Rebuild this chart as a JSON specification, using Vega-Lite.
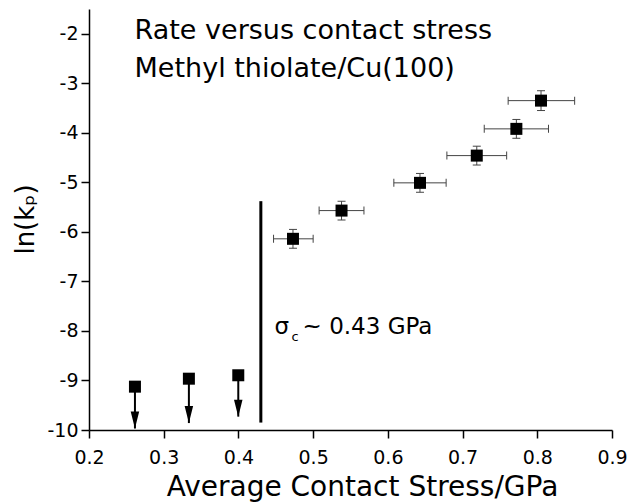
{
  "$schema": "https://vega.github.io/schema/vega-lite/v6.json",
  "width": 523,
  "height": 421,
  "autosize": "none",
  "padding": {"left": 89, "top": 9, "right": 24, "bottom": 72},
  "background": "white",
  "config": {
    "font": "DejaVu Sans",
    "view": {"stroke": null},
    "axis": {
      "grid": false,
      "domainColor": "black",
      "tickColor": "black",
      "labelColor": "black",
      "titleColor": "black",
      "labelFont": "DejaVu Sans",
      "titleFont": "DejaVu Sans",
      "titleFontWeight": "normal",
      "domainWidth": 1.5,
      "tickWidth": 1.5
    }
  },
  "datasets": {
    "main": [
      {"x": 0.473, "y": -6.14, "xlo": 0.447, "xhi": 0.500, "ylo": -6.33, "yhi": -5.95},
      {"x": 0.538, "y": -5.57, "xlo": 0.508, "xhi": 0.568, "ylo": -5.76, "yhi": -5.38},
      {"x": 0.643, "y": -5.01, "xlo": 0.608, "xhi": 0.678, "ylo": -5.20, "yhi": -4.82},
      {"x": 0.719, "y": -4.46, "xlo": 0.679, "xhi": 0.759, "ylo": -4.65, "yhi": -4.27},
      {"x": 0.772, "y": -3.92, "xlo": 0.729, "xhi": 0.815, "ylo": -4.11, "yhi": -3.73},
      {"x": 0.805, "y": -3.35, "xlo": 0.761, "xhi": 0.850, "ylo": -3.55, "yhi": -3.15}
    ],
    "limits": [
      {"x": 0.2615, "y": -9.125, "tip": -9.97},
      {"x": 0.3337, "y": -8.964, "tip": -9.86},
      {"x": 0.3998, "y": -8.895, "tip": -9.73}
    ],
    "threshold": [{"x": 0.43, "ybot": -9.85, "ytop": -5.38}],
    "heading": [
      {"x": 0.261, "y": -2.10, "label": "Rate versus contact stress"},
      {"x": 0.261, "y": -2.87, "label": "Methyl thiolate/Cu(100)"}
    ],
    "sigma": [{"x": 0.4484, "y": -8.06}]
  },
  "layer": [
    {
      "data": {"name": "threshold"},
      "mark": {"type": "rule", "color": "black", "strokeWidth": 3},
      "encoding": {
        "x": {
          "field": "x", "type": "quantitative",
          "scale": {"domain": [0.2, 0.9], "nice": false, "zero": false},
          "title": "Average Contact Stress/GPa",
          "axis": {
            "values": [0.2, 0.25, 0.3, 0.35, 0.4, 0.45, 0.5, 0.55, 0.6, 0.65, 0.7, 0.75, 0.8, 0.85, 0.9],
            "labelExpr": "round(datum.value*100) % 10 == 0 ? format(datum.value, '.1f') : ''",
            "tickSize": {"condition": {"test": "round(datum.value*100) % 10 == 0", "value": 8}, "value": 4},
            "labelFontSize": 19,
            "labelPadding": 10,
            "labelFlush": false,
            "labelOverlap": false,
            "titleFontSize": 28,
            "titlePadding": 6,
            "titleX": 273
          }
        },
        "y": {
          "field": "ybot", "type": "quantitative",
          "scale": {"domain": [-10, -1.5], "nice": false, "zero": false},
          "title": "ln(kₚ)",
          "axis": {
            "values": [-10, -9.5, -9, -8.5, -8, -7.5, -7, -6.5, -6, -5.5, -5, -4.5, -4, -3.5, -3, -2.5, -2, -1.5],
            "labelExpr": "datum.value % 1 == 0 ? '' + datum.value : ''",
            "tickSize": {"condition": {"test": "datum.value % 1 == 0", "value": 8}, "value": 4},
            "labelFontSize": 19,
            "labelPadding": 3,
            "labelFlush": false,
            "labelOverlap": false,
            "titleFontSize": 26,
            "titleX": -51,
            "titleY": 210
          }
        },
        "y2": {"field": "ytop"}
      }
    },
    {
      "data": {"name": "main"},
      "mark": {"type": "rule", "color": "#444444", "strokeWidth": 1},
      "encoding": {
        "x": {"field": "xlo", "type": "quantitative"},
        "x2": {"field": "xhi"},
        "y": {"field": "y", "type": "quantitative"}
      }
    },
    {
      "data": {"name": "main"},
      "mark": {"type": "tick", "orient": "vertical", "size": 8, "thickness": 1, "color": "#444444", "opacity": 1},
      "encoding": {
        "x": {"field": "xlo", "type": "quantitative"},
        "y": {"field": "y", "type": "quantitative"}
      }
    },
    {
      "data": {"name": "main"},
      "mark": {"type": "tick", "orient": "vertical", "size": 8, "thickness": 1, "color": "#444444", "opacity": 1},
      "encoding": {
        "x": {"field": "xhi", "type": "quantitative"},
        "y": {"field": "y", "type": "quantitative"}
      }
    },
    {
      "data": {"name": "main"},
      "mark": {"type": "rule", "color": "#444444", "strokeWidth": 1},
      "encoding": {
        "x": {"field": "x", "type": "quantitative"},
        "y": {"field": "ylo", "type": "quantitative"},
        "y2": {"field": "yhi"}
      }
    },
    {
      "data": {"name": "main"},
      "mark": {"type": "tick", "orient": "horizontal", "size": 8, "thickness": 1, "color": "#444444", "opacity": 1},
      "encoding": {
        "x": {"field": "x", "type": "quantitative"},
        "y": {"field": "ylo", "type": "quantitative"}
      }
    },
    {
      "data": {"name": "main"},
      "mark": {"type": "tick", "orient": "horizontal", "size": 8, "thickness": 1, "color": "#444444", "opacity": 1},
      "encoding": {
        "x": {"field": "x", "type": "quantitative"},
        "y": {"field": "yhi", "type": "quantitative"}
      }
    },
    {
      "data": {"name": "main"},
      "mark": {"type": "point", "shape": "square", "filled": true, "size": 144, "color": "black", "opacity": 1},
      "encoding": {
        "x": {"field": "x", "type": "quantitative"},
        "y": {"field": "y", "type": "quantitative"}
      }
    },
    {
      "data": {"name": "limits"},
      "mark": {"type": "rule", "color": "black", "strokeWidth": 2},
      "encoding": {
        "x": {"field": "x", "type": "quantitative"},
        "y": {"field": "y", "type": "quantitative"},
        "y2": {"field": "tip"}
      }
    },
    {
      "data": {"name": "limits"},
      "mark": {"type": "point", "shape": "M-0.5,-2L0.5,-2L0,0Z", "filled": true, "size": 289, "color": "black", "opacity": 1},
      "encoding": {
        "x": {"field": "x", "type": "quantitative"},
        "y": {"field": "tip", "type": "quantitative"}
      }
    },
    {
      "data": {"name": "limits"},
      "mark": {"type": "point", "shape": "square", "filled": true, "size": 144, "color": "black", "opacity": 1},
      "encoding": {
        "x": {"field": "x", "type": "quantitative"},
        "y": {"field": "y", "type": "quantitative"}
      }
    },
    {
      "data": {"name": "heading"},
      "mark": {"type": "text", "align": "left", "baseline": "alphabetic", "fontSize": 27, "font": "DejaVu Sans", "color": "black"},
      "encoding": {
        "x": {"field": "x", "type": "quantitative"},
        "y": {"field": "y", "type": "quantitative"},
        "text": {"field": "label"}
      }
    },
    {
      "data": {"name": "sigma"},
      "mark": {"type": "text", "text": "σ", "align": "left", "baseline": "alphabetic", "fontSize": 23, "font": "DejaVu Sans", "color": "black"},
      "encoding": {
        "x": {"field": "x", "type": "quantitative"},
        "y": {"field": "y", "type": "quantitative"}
      }
    },
    {
      "data": {"name": "sigma"},
      "mark": {"type": "text", "text": "c", "align": "left", "baseline": "alphabetic", "fontSize": 13, "dx": 17, "dy": 7, "font": "DejaVu Sans", "color": "black"},
      "encoding": {
        "x": {"field": "x", "type": "quantitative"},
        "y": {"field": "y", "type": "quantitative"}
      }
    },
    {
      "data": {"name": "sigma"},
      "mark": {"type": "text", "text": "~ 0.43 GPa", "align": "left", "baseline": "alphabetic", "fontSize": 23, "dx": 28, "font": "DejaVu Sans", "color": "black"},
      "encoding": {
        "x": {"field": "x", "type": "quantitative"},
        "y": {"field": "y", "type": "quantitative"}
      }
    }
  ]
}
